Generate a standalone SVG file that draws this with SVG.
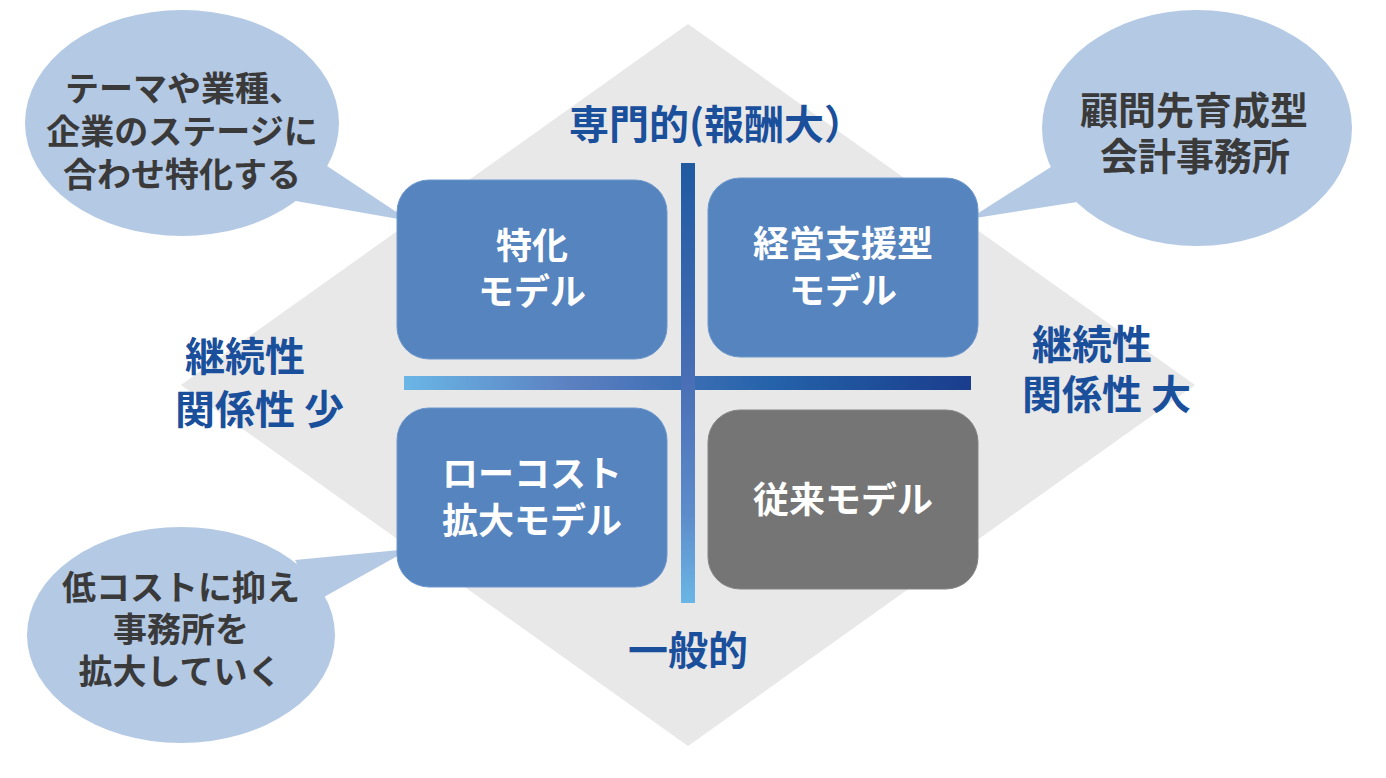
<svg xmlns="http://www.w3.org/2000/svg" width="1386" height="778" viewBox="0 0 1386 778">
<defs>
<style>
text{font-family:"Noto Sans CJK JP","Noto Sans CJK SC",sans-serif;font-weight:700}
.box{fill:#5584be;stroke:#6d97cc;stroke-width:1}
.gray{fill:#757575;stroke:#858585;stroke-width:1}
.bt{fill:#ffffff;font-size:36px;text-anchor:middle}
.call{fill:#b4c9e4}
.ct{fill:#3a3a3a;font-size:34px;text-anchor:middle}
.ax{fill:#1a4f9c;font-size:40px}
</style>
<linearGradient id="gv" x1="0" y1="0" x2="0" y2="1">
<stop offset="0" stop-color="#1f5aa2"/>
<stop offset="0.5" stop-color="#4a6fb6"/>
<stop offset="0.8" stop-color="#5d8ccb"/>
<stop offset="1" stop-color="#6ab6e6"/>
</linearGradient>
<linearGradient id="gh" x1="0" y1="0" x2="1" y2="0">
<stop offset="0" stop-color="#6ab6e6"/>
<stop offset="0.3" stop-color="#5b7fc0"/>
<stop offset="0.65" stop-color="#2462aa"/>
<stop offset="1" stop-color="#1a3d8c"/>
</linearGradient>
</defs>
<rect width="1386" height="778" fill="#ffffff"/>
<polygon id="diamond" points="688,24 1195,385 688,746 181,385" fill="#e8e8e8"/>

<g id="axes">
<rect x="404" y="376" width="567" height="14" fill="url(#gh)"/>
<rect x="681" y="163" width="14" height="440" fill="url(#gv)"/>
</g>

<g id="axis-labels">
<text class="ax" x="569" y="139">専門的(報酬大）</text>
<text class="ax" x="688" y="665" text-anchor="middle">一般的</text>
<text class="ax" x="185" y="371">継続性</text>
<text class="ax" x="175" y="424">関係性 少</text>
<text class="ax" x="1032" y="359">継続性</text>
<text class="ax" x="1022" y="409">関係性 大</text>
</g>

<g id="callout-tl">
<ellipse class="call" cx="182" cy="123" rx="157" ry="113"/>
<polygon class="call" points="318,160 410,221 290,200"/>
<text class="ct" x="184" y="101">テーマや業種、</text>
<text class="ct" x="182" y="144">企業のステージに</text>
<text class="ct" x="182" y="187">合わせ特化する</text>
</g>

<g id="callout-tr">
<ellipse class="call" cx="1197" cy="128" rx="155" ry="118"/>
<polygon class="call" points="1065,158 969,219 1090,200"/>
<text class="ct" x="1194" y="124" style="font-size:38px">顧問先育成型</text>
<text class="ct" x="1195" y="170" style="font-size:38px">会計事務所</text>
</g>

<g id="callout-bl">
<ellipse class="call" cx="181" cy="635" rx="154" ry="108"/>
<polygon class="call" points="295,560 410,549 315,602"/>
<text class="ct" x="181" y="600">低コストに抑え</text>
<text class="ct" x="181" y="642">事務所を</text>
<text class="ct" x="180" y="684">拡大していく</text>
</g>

<g id="node-tl">
<rect class="box" x="397" y="180" width="270" height="179" rx="32"/>
<text class="bt" x="532" y="259">特化</text>
<text class="bt" x="532" y="305">モデル</text>
</g>

<g id="node-tr">
<rect class="box" x="708" y="178" width="270" height="179" rx="32"/>
<text class="bt" x="843" y="257">経営支援型</text>
<text class="bt" x="843" y="304">モデル</text>
</g>

<g id="node-bl">
<rect class="box" x="397" y="408" width="270" height="179" rx="32"/>
<text class="bt" x="532" y="487">ローコスト</text>
<text class="bt" x="532" y="534">拡大モデル</text>
</g>

<g id="node-br">
<rect class="gray" x="708" y="410" width="270" height="179" rx="32"/>
<text class="bt" x="843" y="513">従来モデル</text>
</g>
</svg>
